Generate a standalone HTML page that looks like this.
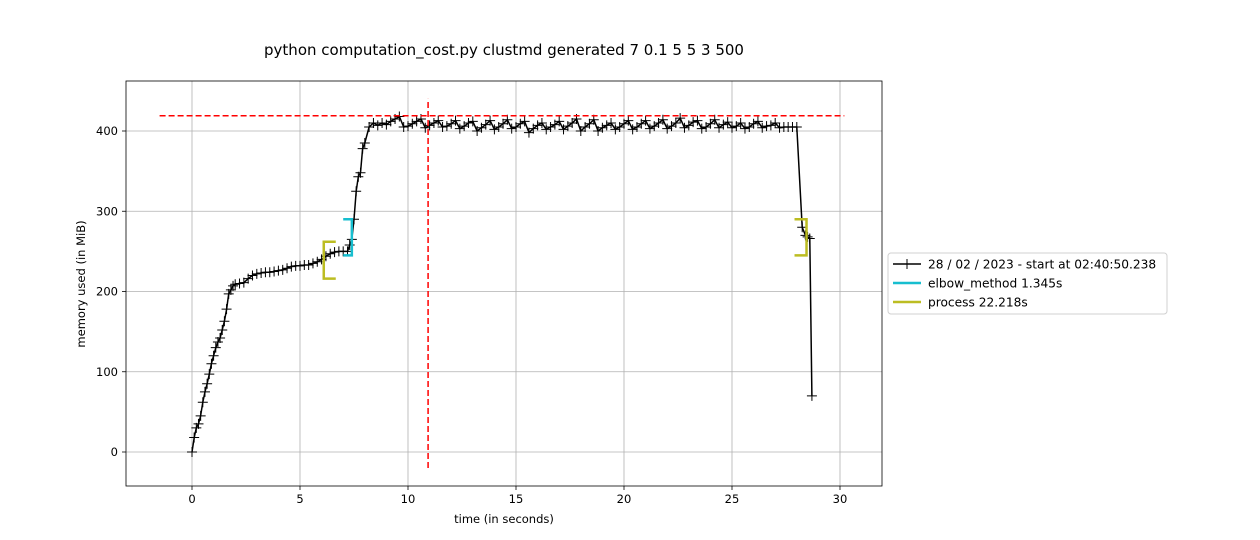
<!DOCTYPE html>
<html><head><meta charset="utf-8"><style>
html,body{margin:0;padding:0;background:#fff;}
svg{display:block;font-family:"DejaVu Sans","Liberation Sans",sans-serif;}
</style></head><body>
<svg id="chart" width="1260" height="540" viewBox="0 0 1260 540" xmlns="http://www.w3.org/2000/svg"></svg>
<script>
const times = [0,0.1,0.2,0.3,0.4,0.5,0.6,0.7,0.8,0.9,1.0,1.1,1.2,1.3,1.4,1.5,1.6,1.7,1.8,1.9,2.0,2.2,2.4,2.6,2.8,3.0,3.2,3.4,3.6,3.8,4.0,4.2,4.4,4.6,4.8,5.0,5.2,5.4,5.6,5.8,6.0,6.2,6.4,6.6,6.8,7.0,7.2,7.3,7.4,7.5,7.6,7.7,7.8,7.9,8.0,8.2,8.4,8.6,8.8,9.0,9.2,9.4,9.6,9.8,
10.0,10.2,10.4,10.6,10.8,11.0,11.2,11.4,11.6,11.8,12.0,12.2,12.4,12.6,12.8,13.0,13.2,13.4,13.6,13.8,14.0,14.2,14.4,14.6,14.8,15.0,15.2,15.4,15.6,15.8,16.0,16.2,16.4,16.6,16.8,17.0,17.2,17.4,17.6,17.8,18.0,18.2,18.4,18.6,18.8,19.0,19.2,19.4,19.6,19.8,20.0,20.2,20.4,20.6,20.8,21.0,21.2,21.4,21.6,21.8,22.0,22.2,22.4,22.6,22.8,23.0,23.2,23.4,23.6,23.8,24.0,24.2,24.4,24.6,24.8,25.0,25.2,25.4,25.6,25.8,26.0,26.2,26.4,26.6,26.8,27.0,27.2,27.4,27.6,27.8,28.0,
28.25,28.4,28.5,28.6,28.7,28.9];
const memory = [0,18,30,35,45,62,75,85,97,110,120,130,137,142,152,163,178,197,202,207,209,210,211,216,220,222,223,224,224,225,226,227,229,231,232,232,233,233,235,237,240,244,247,249,250,250,250,258,265,290,325,343,348,378,385,405,410,407,410,408,412,415,418,405,
406,409,412,415,404,407,410,413,405,406,409,413,403,406,410,412,400,404,408,413,402,405,409,414,403,405,409,412,398,403,407,410,402,405,408,412,402,406,410,415,400,405,409,414,400,404,407,410,402,405,409,413,402,405,409,413,403,406,410,414,403,406,410,416,404,407,411,413,403,405,409,414,404,408,411,404,406,410,403,405,409,412,404,406,407,410,404,405,405,405,
405,280,270,268,266,70];
const xTicks = [0,5,10,15,20,25,30];
const yTicks = [0,100,200,300,400];
const elbowBracket = [7.0,7.4,245,290];
const processStart = [6.1,216,262];
const processEnd = [28.45,245,290];
const peakMem = 419, peakTime = 10.93;

const svg = document.getElementById('chart');
const NS = 'http://www.w3.org/2000/svg';
const L=126,R=882,T=81,B=486;
const X = v => 192 + v*21.6;
const Y = v => 452 - v*0.8025;
function mk(tag, attrs, parent){const e=document.createElementNS(NS,tag);for(const k in attrs)e.setAttribute(k,attrs[k]);(parent||svg).appendChild(e);return e;}

xTicks.forEach(t=>{
  const g=mk('line',{x1:X(t),x2:X(t),y1:T,y2:B,stroke:'#b0b0b0','stroke-width':0.8});
  
  
  mk('line',{x1:X(t),x2:X(t),y1:B,y2:B+4,stroke:'#000','stroke-width':0.8});
  const tx=mk('text',{x:X(t),y:B+17,'text-anchor':'middle','font-size':11.5});
  tx.textContent=t;
  
  
});
yTicks.forEach(t=>{
  const g=mk('line',{x1:L,x2:R,y1:Y(t),y2:Y(t),stroke:'#b0b0b0','stroke-width':0.8});
  
  
  mk('line',{x1:L-4,x2:L,y1:Y(t),y2:Y(t),stroke:'#000','stroke-width':0.8});
  const tx=mk('text',{x:L-8,y:Y(t)+4,'text-anchor':'end','font-size':11.5});
  tx.textContent=t;
  
  
});

const pts=times.map((t,i)=>X(t).toFixed(1)+','+Y(memory[i]).toFixed(1)).join(' ');
const line=mk('polyline',{points:pts,fill:'none',stroke:'#000','stroke-width':1.5});


let m='';
times.forEach((t,i)=>{const x=X(t),y=Y(memory[i]);m+=`M${x-5},${y}H${x+5}M${x},${y-5}V${y+5}`;});
const mp=mk('path',{d:m,stroke:'#000','stroke-width':1});



const eb=mk('path',{d:`M${X(elbowBracket[0])},${Y(elbowBracket[3])}H${X(elbowBracket[1])}V${Y(elbowBracket[2])}H${X(elbowBracket[0])}`,fill:'none',stroke:'#17becf','stroke-width':2.5});


const ps=mk('path',{d:`M${X(processStart[0])+12},${Y(processStart[2])}H${X(processStart[0])}V${Y(processStart[1])}H${X(processStart[0])+12}`,fill:'none',stroke:'#bcbd22','stroke-width':2.5});


const pe=mk('path',{d:`M${X(processEnd[0])-12},${Y(processEnd[2])}H${X(processEnd[0])}V${Y(processEnd[1])}H${X(processEnd[0])-12}`,fill:'none',stroke:'#bcbd22','stroke-width':2.5});



const ph=mk('line',{x1:X(-1.5),x2:X(30.2),y1:Y(peakMem),y2:Y(peakMem),stroke:'#ff0000','stroke-width':1.5,'stroke-dasharray':'6,3'});


const pv=mk('line',{x1:X(peakTime),x2:X(peakTime),y1:Y(-20),y2:Y(440),stroke:'#ff0000','stroke-width':1.5,'stroke-dasharray':'6,3'});



const fr=mk('rect',{x:L,y:T,width:R-L,height:B-T,fill:'none',stroke:'#000','stroke-width':0.8});



const ti=mk('text',{x:504,y:55,'text-anchor':'middle','font-size':15});
ti.textContent='python computation_cost.py clustmd generated 7 0.1 5 5 3 500';


const xl=mk('text',{x:504,y:523,'text-anchor':'middle','font-size':11.5});
xl.textContent='time (in seconds)';


const yl=mk('text',{x:0,y:0,'text-anchor':'middle','font-size':11.5,transform:'translate(85,284) rotate(-90)'});
yl.textContent='memory used (in MiB)';



const lg=mk('g',{});


mk('rect',{x:888,y:253,width:279,height:61,rx:3,fill:'#fff',stroke:'#d0d0d0'},lg);
const entries=[['28 / 02 / 2023 - start at 02:40:50.238','#000'],['elbow_method 1.345s','#17becf'],['process 22.218s','#bcbd22']];
entries.forEach((e,i)=>{
  const y=264+i*19;
  const ent=mk('g',{},lg);
  
  
  mk('line',{x1:893,x2:921,y1:y,y2:y,stroke:e[1],'stroke-width':i?2.5:1.5},ent);
  if(i===0) mk('path',{d:'M902,264H912M907,259V269',stroke:'#000','stroke-width':1},ent);
  const t=mk('text',{x:928,y:y+4.5,'font-size':12.2},ent);
  t.textContent=e[0];
});
</script>
</body></html>
